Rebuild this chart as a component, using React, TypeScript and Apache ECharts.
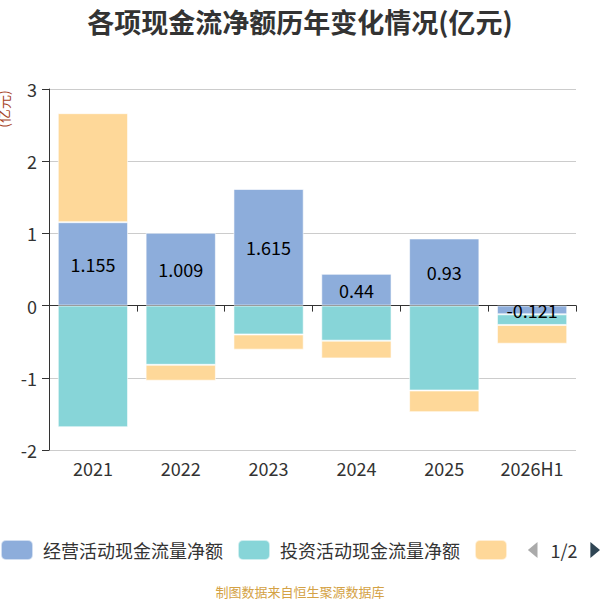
import React, { useEffect, useRef } from "react";
import * as echarts from "echarts";

const categories = ["2021", "2022", "2023", "2024", "2025", "2026H1"];
const operating = [1.155, 1.009, 1.615, 0.44, 0.93, -0.121];
const investing = [-1.685, -0.82, -0.4, -0.486, -1.176, -0.147];
const financing = [1.51, -0.22, -0.21, -0.245, -0.3, -0.26];
const seriesNames = ["经营活动现金流量净额", "投资活动现金流量净额", "筹资活动现金流量净额"];
const colors = ["#8daddb", "#87d5d8", "#fed899"];

export default function App() {
  const ref = useRef<HTMLDivElement>(null);
  useEffect(() => {
    const chart = echarts.init(ref.current!, null, { renderer: "svg" });
    const font = "'Noto Sans CJK SC', 'Noto Sans', sans-serif";
    const mk = (name: string, data: number[], color: string, label: boolean) => ({
      name,
      type: "bar",
      stack: "total",
      data,
      barWidth: "80%",
      itemStyle: { color, borderColor: "rgba(255,255,255,0.6)", borderWidth: 1 },
      label: label
        ? { show: true, position: "inside", color: "#000", fontSize: 18, fontFamily: font }
        : { show: false },
    });
    chart.setOption({
      animation: false,
      textStyle: { fontFamily: font },
      title: {
        text: "各项现金流净额历年变化情况(亿元)",
        left: "center",
        top: 3,
        textStyle: { fontSize: 27, fontWeight: "bold", color: "#333", fontFamily: font },
      },
      color: colors,
      legend: {
        type: "scroll",
        left: 0,
        right: 0,
        top: 539,
        padding: 0,
        itemWidth: 32,
        itemHeight: 20,
        itemGap: 14,
        icon: "roundRect",
        textStyle: { fontSize: 18, color: "#333", fontFamily: font, padding: [0, 0, 0, 5] },
        pageIconColor: "#2f4554",
        pageIconInactiveColor: "#aaa",
        pageIconSize: 16,
        pageTextStyle: { fontSize: 18, color: "#333" },
        data: seriesNames,
      },
      grid: { left: 49, right: 24, top: 89, bottom: 150 },
      xAxis: [
        {
          type: "category",
          data: categories,
          position: "bottom",
          axisLine: { show: false, onZero: false },
          axisTick: { show: false },
          axisLabel: { fontSize: 18, color: "#333", margin: 9 },
        },
        {
          type: "category",
          data: categories,
          position: "top",
          axisLine: { show: true, onZero: true, lineStyle: { color: "#333" } },
          axisTick: { show: true, inside: true, length: 6, lineStyle: { color: "#333" } },
          axisLabel: { show: false },
        },
      ],
      yAxis: {
        type: "value",
        min: -2,
        max: 3,
        interval: 1,
        axisLine: { show: true, lineStyle: { color: "#333" } },
        axisTick: { show: true, length: 7, lineStyle: { color: "#333" } },
        axisLabel: { fontSize: 18, color: "#333", margin: 12 },
        splitLine: { lineStyle: { color: "#ccc" } },
      },
      graphic: [
        {
          type: "text",
          x: 3,
          y: 109,
          rotation: Math.PI / 2,
          style: {
            text: "(亿元)",
            fontSize: 14,
            fill: "#a8451f",
            textAlign: "center",
            textVerticalAlign: "middle",
            fontFamily: font,
          },
        },
        {
          type: "text",
          x: 300,
          y: 591,
          style: {
            text: "制图数据来自恒生聚源数据库",
            fontSize: 13,
            fill: "#d4a245",
            textAlign: "center",
            textVerticalAlign: "middle",
            fontFamily: font,
          },
        },
      ],
      series: [
        mk(seriesNames[0], operating, colors[0], true),
        mk(seriesNames[1], investing, colors[1], false),
        mk(seriesNames[2], financing, colors[2], false),
      ],
    });
    return () => chart.dispose();
  }, []);
  return <div ref={ref} style={{ position: "absolute", left: 0, top: 0, width: 600, height: 600 }} />;
}
